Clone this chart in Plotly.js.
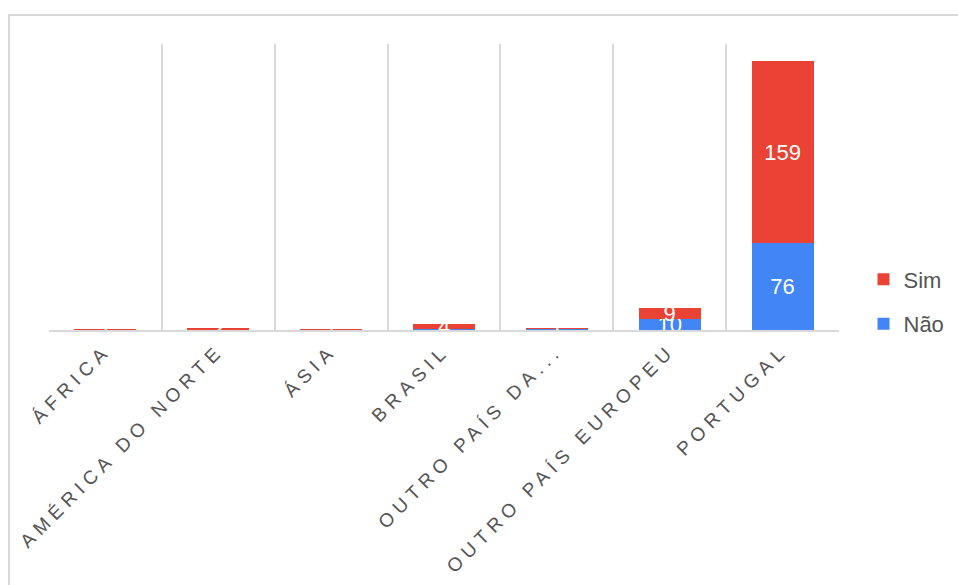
<!DOCTYPE html>
<html>
<head>
<meta charset="utf-8">
<script src="https://cdn.plot.ly/plotly-3.0.1.min.js"></script>
<style>
  html, body { margin: 0; padding: 0; background: #fff; }
  #chart { width: 958px; height: 585px; }
  .xtick text { letter-spacing: 5.5px; }
</style>
</head>
<body>
<div id="chart"></div>
<script>
// Respondents by region of origin, split by answer
const regions = ["ÁFRICA", "AMÉRICA DO NORTE", "ÁSIA", "BRASIL", "OUTRO PAÍS DA...", "OUTRO PAÍS EUROPEU", "PORTUGAL"];
const simValues = [1, 2, 1, 4, 1, 9, 159];
const naoValues = [0, 0, 0, 1, 1, 10, 76];

const RED = "#EA4335";
const BLUE = "#4285F4";
const GRID = "#d9d9d9";
const TEXT = "#555555";
const FAMILY = "Liberation Sans, Arial, sans-serif";

const labelFont = { family: FAMILY, size: 22, color: "#ffffff" };

const traces = [
  {
    type: "bar", name: "Não", x: regions, y: naoValues,
    marker: { color: BLUE, line: { width: 0, color: BLUE } },
    text: naoValues.map(v => v > 0 ? String(v) : ""),
    textposition: "inside", insidetextanchor: "middle", textangle: 0,
    textfont: labelFont, insidetextfont: labelFont,
    legendgroup: "nao", legendrank: 2, hoverinfo: "x+y+name"
  },
  {
    type: "bar", name: "Sim", x: regions, y: simValues,
    marker: { color: RED, line: { width: 0, color: RED } },
    text: simValues.map(v => v > 0 ? String(v) : ""),
    textposition: "inside", insidetextanchor: "middle", textangle: 0,
    textfont: labelFont, insidetextfont: labelFont,
    legendgroup: "sim", legendrank: 1, hoverinfo: "x+y+name"
  },
  // invisible trace that carries the category-boundary grid axis
  {
    type: "scatter", x: [-0.5, 6.5], y: [0, 0], xaxis: "x2", yaxis: "y",
    mode: "markers", marker: { opacity: 0 }, showlegend: false, hoverinfo: "skip"
  }
];

const layout = {
  width: 958, height: 585,
  margin: { l: 49, r: 119, t: 44, b: 255, autoexpand: false },
  paper_bgcolor: "#ffffff", plot_bgcolor: "#ffffff",
  barmode: "stack", bargap: 0.45,
  font: { family: FAMILY, color: TEXT },
  uniformtext: { mode: "show", minsize: 22 },
  xaxis: {
    type: "category", showgrid: false, zeroline: false,
    showline: true, linecolor: GRID, linewidth: 2,
    ticks: "", tickangle: -45,
    tickfont: { size: 19, color: TEXT, family: FAMILY },
    automargin: false
  },
  xaxis2: {
    overlaying: "x", range: [-0.5, 6.5], tick0: -0.5, dtick: 1,
    showgrid: true, gridcolor: GRID, gridwidth: 2,
    showticklabels: false, zeroline: false, showline: false, ticks: ""
  },
  yaxis: {
    range: [0, 250], showgrid: false, zeroline: false,
    showticklabels: false, ticks: "", showline: false
  },
  legend: {
    x: 1.031, xanchor: "left", y: 0.098, yanchor: "middle",
    traceorder: "grouped", tracegroupgap: 13,
    font: { size: 22, color: TEXT, family: FAMILY },
    bgcolor: "rgba(0,0,0,0)"
  },
  shapes: [
    {
      type: "rect", xref: "paper", yref: "paper",
      x0: -0.0506, x1: 1.5, y0: -2, y1: 1.1014,
      line: { color: GRID, width: 2 }, fillcolor: "rgba(0,0,0,0)", layer: "below"
    }
  ],
  showlegend: true
};

Plotly.newPlot("chart", traces, layout, { displayModeBar: false, staticPlot: true });
</script>
</body>
</html>
